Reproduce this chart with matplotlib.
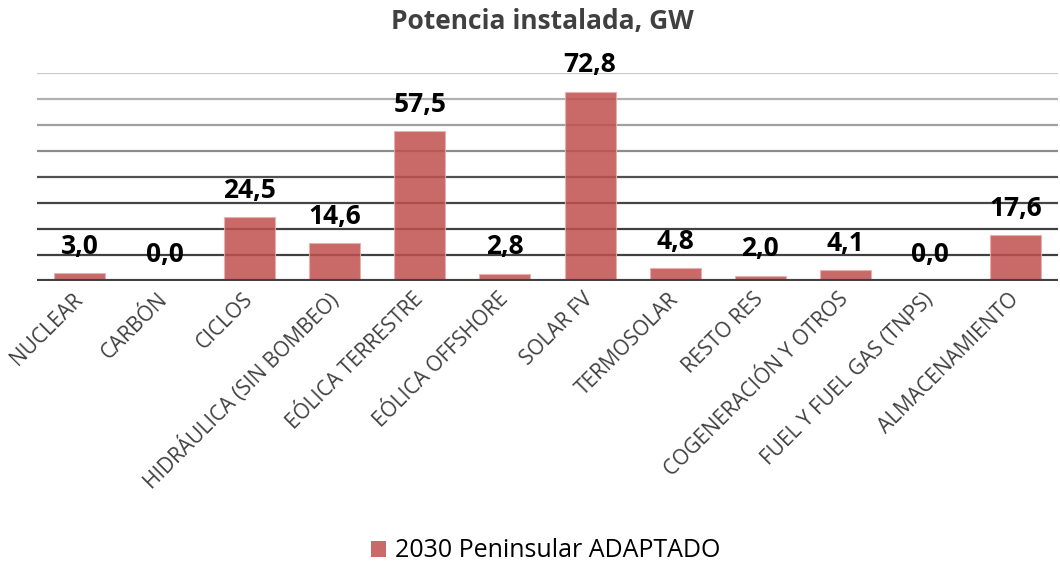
import matplotlib
matplotlib.use("Agg")
import matplotlib.pyplot as plt
from matplotlib.patches import Patch

plt.rcParams['font.family'] = ['Open Sans', 'DejaVu Sans']

categories = ["NUCLEAR", "CARBÓN", "CICLOS", "HIDRÁULICA (SIN BOMBEO)",
              "EÓLICA TERRESTRE", "EÓLICA OFFSHORE", "SOLAR FV", "TERMOSOLAR",
              "RESTO RES", "COGENERACIÓN Y OTROS", "FUEL Y FUEL GAS (TNPS)",
              "ALMACENAMIENTO"]
values = [3.0, 0.0, 24.5, 14.6, 57.5, 2.8, 72.8, 4.8, 2.0, 4.1, 0.0, 17.6]
series_name = "2030 Peninsular ADAPTADO"
title = "Potencia instalada, GW"
grid_levels = [10, 20, 30, 40, 50, 60, 70, 80]
grid_colors = ["#404040", "#404040", "#454545", "#505050",
               "#8c8c8c", "#a0a0a0", "#b0b0b0", "#c8c8c8"]

bar_color = "#C0504D"

fig = plt.figure(figsize=(10.6, 5.65), dpi=100)
ax = fig.add_axes([0.035, 0.5027, 0.963, 0.3683])

x = list(range(len(categories)))
ax.bar(x, values, width=0.6, color=bar_color, alpha=0.85,
       edgecolor="#e8b0ae", linewidth=0.8, zorder=3)

for lvl, col in zip(grid_levels, grid_colors):
    ax.axhline(lvl, color=col, linewidth=1.6, zorder=2)
ax.axhline(0, color="#404040", linewidth=3, zorder=4)

for xi, v in zip(x, values):
    ax.annotate(f"{v:.1f}".replace(".", ","), (xi, v), xytext=(0, 14),
                textcoords="offset points", ha="center", va="baseline",
                fontsize=19, fontweight="bold", color="black", zorder=5)

ax.set_xlim(-0.5, len(categories) - 0.5)
ax.set_ylim(0, 80)
ax.set_yticks([])
ax.set_xticks(x)
ax.set_xticklabels(categories, rotation=45, ha="right", va="center",
                   rotation_mode="anchor", fontsize=15, color="#404040")
ax.tick_params(axis="x", length=0, pad=11)
for s in ax.spines.values():
    s.set_visible(False)

fig.text(0.512, 0.962, title, ha="center", va="center", fontsize=19,
         fontweight="bold", color="#404040")

handle = Patch(facecolor=bar_color, alpha=0.85, edgecolor="none")
fig.legend([handle], [series_name], loc="center", bbox_to_anchor=(0.515, 0.025),
           frameon=False, fontsize=18, handlelength=0.6, handleheight=0.6,
           handletextpad=0.35)

fig.savefig("out.png", dpi=100)
